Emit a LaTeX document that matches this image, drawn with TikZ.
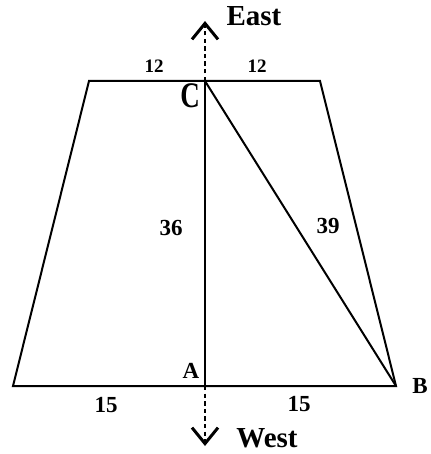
\documentclass[tikz,border=0pt]{standalone}
\usepackage{fontspec}
\setmainfont{Liberation Serif}
\usetikzlibrary{arrows.meta}
\begin{document}
\begin{tikzpicture}[x=0.5pt,y=-0.5pt,
  edge/.style={line width=1pt, line join=miter},
  axis/.style={line width=0.9pt, dash pattern=on 2.2pt off 1.6pt,
    -{Straight Barb[length=8pt,width=13pt,line width=1.5pt]}},
  lbl/.style={inner sep=0pt, font=\bfseries\fontsize{11.5}{12}\selectfont},
  small/.style={inner sep=0pt, font=\bfseries\fontsize{9.5}{10}\selectfont},
  dir/.style={inner sep=0pt, font=\bfseries\fontsize{14.5}{16}\selectfont}]
\useasboundingbox (0,0) rectangle (430,454);
% corners
\coordinate (TL) at (89,81);
\coordinate (C) at (205,81);
\coordinate (TR) at (320,81);
\coordinate (BL) at (13,386);
\coordinate (A) at (205,386);
\coordinate (B) at (396,386);
\coordinate (N) at (205,21);
\coordinate (S) at (205,446);
% trapezoid and triangle
\draw[edge] (TL) -- (TR) -- (B) -- (BL) -- cycle;
\draw[edge] (C) -- (A);
\draw[edge] (C) -- (B);
% direction axis
\draw[axis] (C) -- (N);
\draw[axis] (A) -- (S);
% labels
\node[dir] (east) at (254,16) {East};
\node[dir] (west) at (267,438) {West};
\node[small] (l12a) at (154,66) {12};
\node[small] (l12b) at (257,66) {12};
\node[inner sep=0pt, font=\bfseries\fontsize{15}{16}\selectfont] (lC) at (190,96) {\scalebox{0.9}[1.2]{C}};
\node[lbl] (l36) at (171,228) {36};
\node[lbl] (l39) at (328,226) {39};
\node[lbl] (lA) at (191,371) {A};
\node[lbl] (lB) at (420,386) {B};
\node[lbl] (l15a) at (106,405) {15};
\node[lbl] (l15b) at (299,404) {15};
\end{tikzpicture}
\end{document}
